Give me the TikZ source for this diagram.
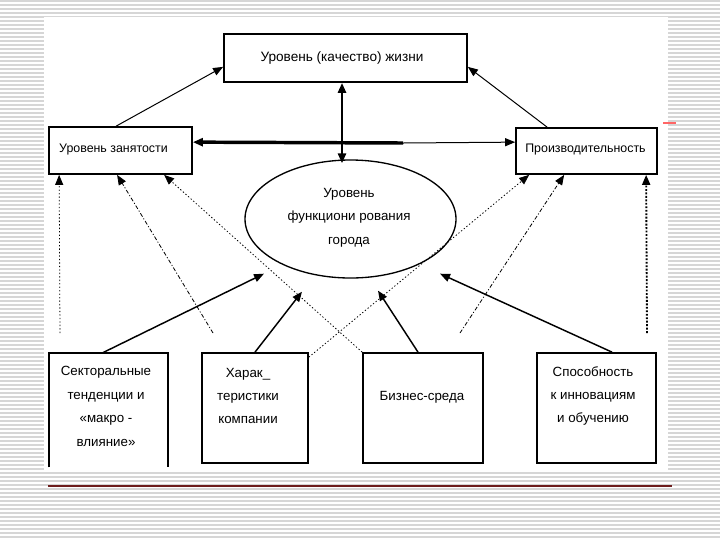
\documentclass[tikz,border=0pt]{standalone}
\usepackage{fontspec}
\setmainfont{Liberation Sans}
\usetikzlibrary{arrows.meta,shapes.geometric,calc}
\definecolor{stripe}{HTML}{D6D6D6}
\definecolor{redline}{HTML}{6E1E1E}
\newcommand{\fBig}{\fontsize{10.2pt}{12pt}\selectfont}
\newcommand{\fSide}{\fontsize{9.3pt}{11pt}\selectfont}
\newcommand{\fBox}{\fontsize{10pt}{17.6pt}\selectfont}
\begin{document}
\begin{tikzpicture}[x=0.75pt,y=-0.75pt,
  boxline/.style={line width=1.3pt},
  box/.style={draw, boxline, fill=white, rectangle, inner sep=0pt},
  openbox/.style={rectangle, inner sep=0pt},
  txt/.style={inner sep=0pt, align=center},
  tip/.style={-{Triangle[length=7.5pt,width=6pt]}},
  bothtips/.style={{Triangle[length=7.5pt,width=6pt]}-{Triangle[length=7.5pt,width=6pt]}},
  thinarrow/.style={tip, line width=0.75pt},
  solidarrow/.style={tip, line width=1.1pt},
  dotarrow/.style={tip, line width=0.6pt, dash pattern=on 1pt off 1.6pt},
  dasharrow/.style={tip, line width=0.6pt, dash pattern=on 3pt off 1.5pt on 0.8pt off 1.5pt},
  heavydot/.style={tip, line width=1.4pt, dash pattern=on 1.4pt off 1.2pt}
]
\useasboundingbox (0,0) rectangle (720,540);
% slide background
\foreach \yy in {1,5,...,537} {
  \draw[stripe, line width=1pt] (0,\yy) -- (720,\yy);
}
\fill[white] (44,17) rectangle (668,470);
\draw[redline, line width=0.9pt] (48,486) -- (672,486);
\draw[red!60, line width=0.8pt] (663,123) -- (676,123);

% nodes
\node[box, minimum width=182.25pt, minimum height=36pt] (top) at (345.5,58) {};
\node[txt, font=\fBig] (toptxt) at (342,58) {Уровень (качество) жизни};

\node[box, minimum width=107.25pt, minimum height=35.25pt] (lbox) at (120.5,150.5) {};
\node[txt, font=\fSide] (ltxt) at (113.5,150) {Уровень занятости};

\node[box, minimum width=105.75pt, minimum height=34.5pt] (rbox) at (586.5,151) {};
\node[txt, font=\fSide] (rtxt) at (585.5,150) {Производительность};

\node[ellipse, draw, line width=1pt, fill=white, minimum width=158.25pt, minimum height=88.5pt, inner sep=0pt] (ell) at (350.5,219) {};
\node[txt, font=\fBox] (elltxt) at (349,217.5) {Уровень\\функциони рования\\города};

\node[openbox, minimum width=89.25pt, minimum height=85.5pt] (b1) at (108.5,410) {};
\draw[boxline] (b1.south west) -- (b1.north west) -- (b1.north east) -- (b1.south east);
\node[txt, font=\fBox] (b1txt) at (106,406.5) {Секторальные\\тенденции и\\«макро -\\влияние»};

\node[box, minimum width=79.5pt, minimum height=82.5pt] (b2) at (255,408) {};
\node[txt, font=\fBox] (b2txt) at (248,396) {Харак\_\\теристики\\компании};

\node[box, minimum width=90pt, minimum height=82.5pt] (b3) at (423,408) {};
\node[txt, font=\fBox] (b3txt) at (422,397) {Бизнес-среда};

\node[box, minimum width=89.25pt, minimum height=82.5pt] (b4) at (596.5,408) {};
\node[txt, font=\fBox] (b4txt) at (593,396) {Способность\\к инновациям\\и обучению};

% free ends
\coordinate (hmid) at (403,143);
\coordinate (d1) at (60,333);
\coordinate (d2) at (213,333);
\coordinate (d3) at (460,333);
\coordinate (d4) at (647,333);

% connectors between upper boxes
\draw[thinarrow] ($(lbox.north west)+(68,0)$) -- ($(top.south west)+(0,-16)$);
\draw[thinarrow] ($(rbox.north west)+(32,0)$) -- ($(top.south east)+(0,-16)$);
\draw[bothtips, line width=2.2pt] ($(top.south)+(-3.5,0)$) -- ($(ell.north)+(-8.5,4)$);
\draw[tip, line width=2.6pt] (hmid) -- ($(lbox.north east)+(0,16)$);
\draw[thinarrow] (hmid) -- ($(rbox.north west)+(0,15)$);

% influences on employment / productivity
\draw[dotarrow] (d1) -- ($(lbox.south west)+(11,0)$);
\draw[dasharrow] (d2) -- ($(lbox.south west)+(69,0)$);
\draw[dotarrow] (b3.north west) -- ($(lbox.south west)+(116,0)$);
\draw[dotarrow] ($(b2.north east)+(0,5)$) -- ($(rbox.south west)+(14,0)$);
\draw[dasharrow] (d3) -- ($(rbox.south west)+(49,0)$);
\draw[heavydot] (d4) -- ($(rbox.south west)+(131,0)$);

% influences on the city
\draw[solidarrow] ($(b1.north west)+(54,0)$) -- ($(ell.south)+(-86.5,-5)$);
\draw[solidarrow] (b2.north) -- ($(ell.south)+(-48.5,13)$);
\draw[solidarrow] ($(b3.north)+(-5,0)$) -- ($(ell.south)+(27.5,12)$);
\draw[solidarrow] ($(b4.north)+(15.5,0)$) -- ($(ell.south)+(89.5,-5)$);
\end{tikzpicture}
\end{document}
